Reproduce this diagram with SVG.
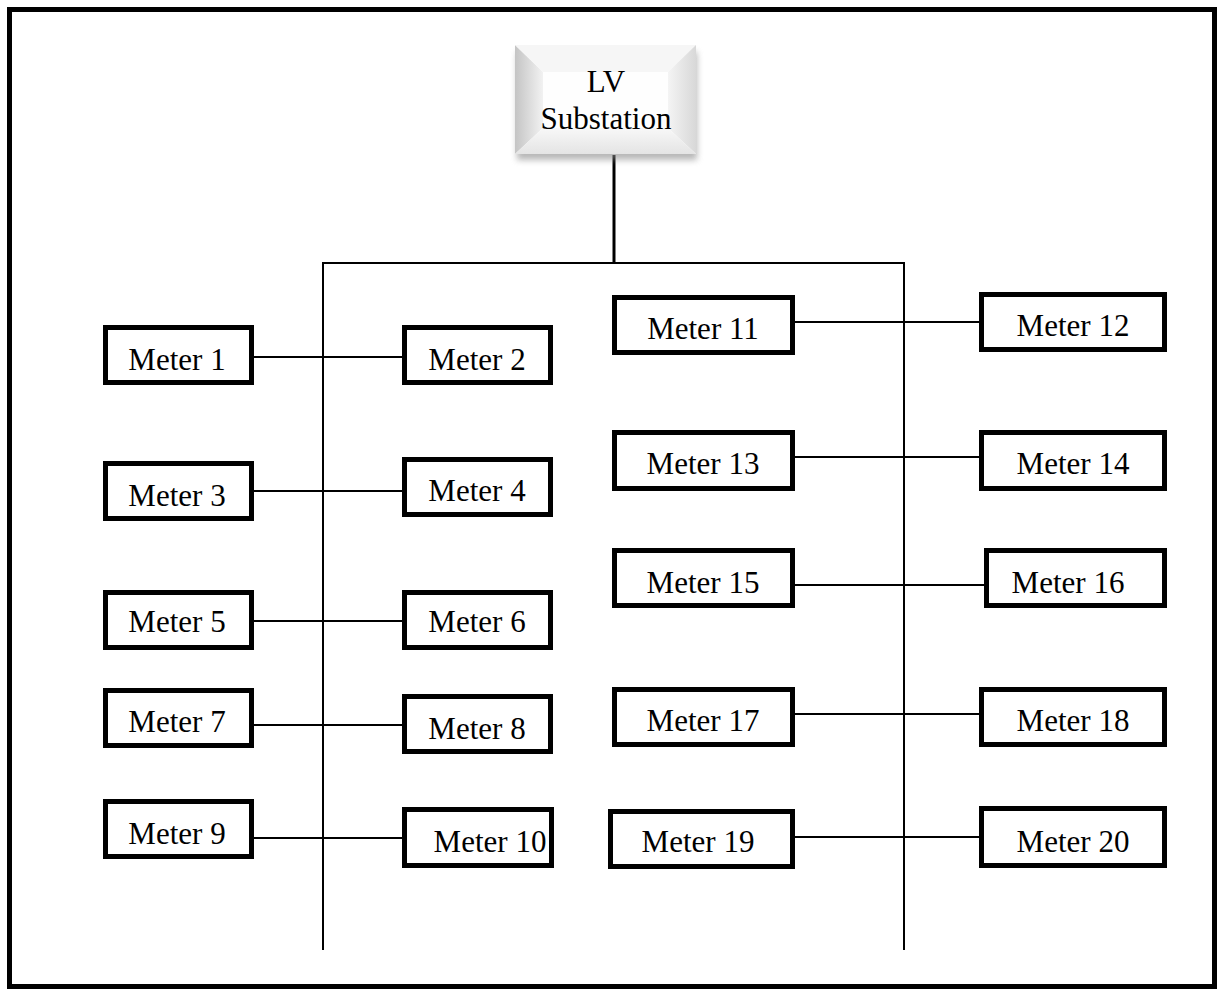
<svg xmlns="http://www.w3.org/2000/svg" width="1221" height="990" viewBox="0 0 1221 990">
<style>
.box{fill:#fff;stroke:#000;stroke-width:5;}
.t{font-family:"Liberation Serif","Times New Roman",serif;font-size:31px;fill:#000;text-anchor:middle;}
.w{stroke:#000;stroke-width:2;fill:none;}
</style>
<defs>
<filter id="sh" x="-20%" y="-20%" width="140%" height="160%"><feGaussianBlur stdDeviation="3"/></filter>
<linearGradient id="gl" x1="0" y1="0" x2="1" y2="0"><stop offset="0" stop-color="#c4c4c4"/><stop offset="1" stop-color="#f2f2f2"/></linearGradient>
<linearGradient id="gr" x1="0" y1="0" x2="1" y2="0"><stop offset="0" stop-color="#f4f4f4"/><stop offset="1" stop-color="#d8d8d8"/></linearGradient>
<linearGradient id="gb" x1="0" y1="0" x2="0" y2="1"><stop offset="0" stop-color="#f8f8f8"/><stop offset="1" stop-color="#e4e4e4"/></linearGradient>
</defs>
<rect x="0" y="0" width="1221" height="990" fill="#fff"/>
<rect x="9.5" y="9.5" width="1205" height="977" fill="none" stroke="#000" stroke-width="5"/>
<g id="connectors">
<line x1="614" y1="155" x2="614" y2="263" stroke="#000" stroke-width="3"/>
<line class="w" x1="322" y1="263" x2="905" y2="263"/>
<line class="w" x1="323" y1="263" x2="323" y2="950"/>
<line class="w" x1="904" y1="263" x2="904" y2="950"/>
<line class="w" x1="252" y1="357" x2="404" y2="357"/>
<line class="w" x1="252" y1="491" x2="404" y2="491"/>
<line class="w" x1="252" y1="621" x2="404" y2="621"/>
<line class="w" x1="252" y1="725" x2="404" y2="725"/>
<line class="w" x1="252" y1="838" x2="404" y2="838"/>
<line class="w" x1="793" y1="322" x2="981" y2="322"/>
<line class="w" x1="793" y1="457" x2="981" y2="457"/>
<line class="w" x1="793" y1="585" x2="986" y2="585"/>
<line class="w" x1="793" y1="714" x2="981" y2="714"/>
<line class="w" x1="793" y1="837" x2="981" y2="837"/>
</g>
<g id="substation">
<rect x="517" y="52" width="180" height="108" fill="#888" opacity="0.6" filter="url(#sh)"/>
<rect x="515" y="45" width="181" height="109" fill="#fff"/>
<polygon points="515,45 543,72 543,128 515,154" fill="url(#gl)"/>
<polygon points="515,45 696,45 668,72 543,72" fill="#f6f6f6"/>
<polygon points="696,45 696,154 668,128 668,72" fill="url(#gr)"/>
<polygon points="515,154 696,154 668,128 543,128" fill="url(#gb)"/>
<rect x="543" y="72" width="125" height="56" fill="#fefefe"/>
<text class="t" x="606" y="92">LV</text>
<text class="t" x="606" y="129">Substation</text>
</g>
<g id="m1"><rect class="box" x="105.5" y="327.5" width="146" height="55"/><text class="t" x="177" y="370">Meter 1</text></g>
<g id="m2"><rect class="box" x="404.5" y="327.5" width="146" height="55"/><text class="t" x="477" y="370">Meter 2</text></g>
<g id="m3"><rect class="box" x="105.5" y="463.5" width="146" height="55"/><text class="t" x="177" y="506">Meter 3</text></g>
<g id="m4"><rect class="box" x="404.5" y="459.5" width="146" height="55"/><text class="t" x="477" y="501">Meter 4</text></g>
<g id="m5"><rect class="box" x="105.5" y="592.5" width="146" height="55"/><text class="t" x="177" y="632">Meter 5</text></g>
<g id="m6"><rect class="box" x="404.5" y="592.5" width="146" height="55"/><text class="t" x="477" y="632">Meter 6</text></g>
<g id="m7"><rect class="box" x="105.5" y="690.5" width="146" height="55"/><text class="t" x="177" y="732">Meter 7</text></g>
<g id="m8"><rect class="box" x="404.5" y="696.5" width="146" height="55"/><text class="t" x="477" y="739">Meter 8</text></g>
<g id="m9"><rect class="box" x="105.5" y="801.5" width="146" height="55"/><text class="t" x="177" y="844">Meter 9</text></g>
<g id="m10"><rect class="box" x="404.5" y="809.5" width="147" height="56"/><text class="t" x="490" y="852">Meter 10</text></g>
<g id="m11"><rect class="box" x="614.5" y="297.5" width="178" height="55"/><text class="t" x="703" y="339">Meter 11</text></g>
<g id="m12"><rect class="box" x="981.5" y="294.5" width="183" height="55"/><text class="t" x="1073" y="336">Meter 12</text></g>
<g id="m13"><rect class="box" x="614.5" y="432.5" width="178" height="56"/><text class="t" x="703" y="474">Meter 13</text></g>
<g id="m14"><rect class="box" x="981.5" y="432.5" width="183" height="56"/><text class="t" x="1073" y="474">Meter 14</text></g>
<g id="m15"><rect class="box" x="614.5" y="550.5" width="178" height="55"/><text class="t" x="703" y="593">Meter 15</text></g>
<g id="m16"><rect class="box" x="986.5" y="550.5" width="178" height="55"/><text class="t" x="1068" y="593">Meter 16</text></g>
<g id="m17"><rect class="box" x="614.5" y="689.5" width="178" height="55"/><text class="t" x="703" y="731">Meter 17</text></g>
<g id="m18"><rect class="box" x="981.5" y="689.5" width="183" height="55"/><text class="t" x="1073" y="731">Meter 18</text></g>
<g id="m19"><rect class="box" x="610.5" y="811.5" width="182" height="55"/><text class="t" x="698" y="852">Meter 19</text></g>
<g id="m20"><rect class="box" x="981.5" y="808.5" width="183" height="57"/><text class="t" x="1073" y="852">Meter 20</text></g>
</svg>
